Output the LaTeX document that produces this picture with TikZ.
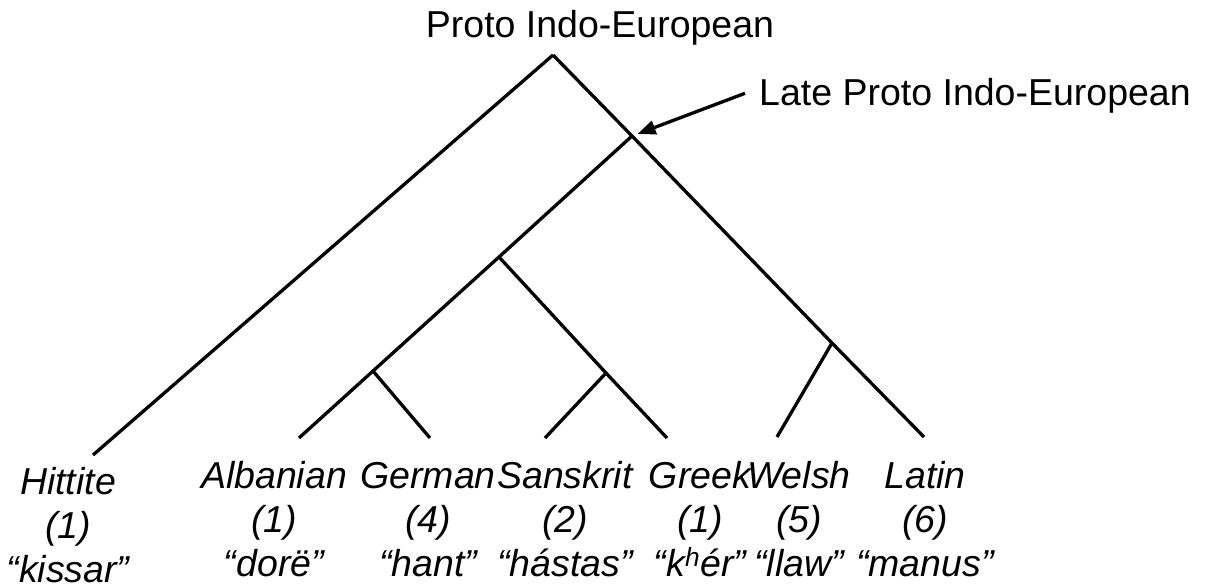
\documentclass[tikz,border=0pt]{standalone}
\usepackage{fontspec}
\setmainfont{Liberation Sans}
\usetikzlibrary{arrows.meta}

\begin{document}
\begin{tikzpicture}[x=1pt, y=-1pt,
    branch/.style={line width=3.3pt},
    pointer/.style={line width=3.3pt, -{Triangle[length=18pt,width=14pt]}, shorten >=6pt},
    title/.style={anchor=base, inner sep=0pt, font=\fontsize{37.5}{44}\selectfont},
    leaf/.style={anchor=base, inner sep=0pt, font=\fontsize{37.5}{44}\selectfont\itshape}]
    \path[use as bounding box] (0, 0) rectangle (1205, 586);

    \node[title] (pie) at (600, 38) {Proto Indo-European};
    \node[title, anchor=base west] (late) at (759, 105) {Late Proto Indo-European};

    % branch points
    \coordinate (root) at (553, 55);
    \coordinate (lpie) at (632, 136);
    \coordinate (core) at (499, 257);
    \coordinate (ag)   at (373, 371);
    \coordinate (sg)   at (606, 373);
    \coordinate (wl)   at (832, 343);

    % leaf ends
    \coordinate (hit) at (93, 455);
    \coordinate (alb) at (299, 438);
    \coordinate (ger) at (430, 438);
    \coordinate (san) at (545, 438);
    \coordinate (gre) at (667, 438);
    \coordinate (wel) at (777, 437);
    \coordinate (lat) at (924, 437);

    \draw[branch] (root) -- (hit);
    \draw[branch] (root) -- (lpie) -- (wl) -- (lat);
    \draw[branch] (lpie) -- (core) -- (ag) -- (alb);
    \draw[branch] (ag) -- (ger);
    \draw[branch] (core) -- (sg) -- (gre);
    \draw[branch] (sg) -- (san);
    \draw[branch] (wl) -- (wel);

    \draw[pointer] ([xshift=-14pt, yshift=2pt]late.west) -- (lpie);

    \foreach \x/\y/\lang/\num/\word [count=\i] in {
        68/494/Hittite/1/kissar,
        274/488/Albanian/1/dorë,
        428/488/German/4/hant,
        565/488/Sanskrit/2/hástas,
        700/488/Greek/1/{k\textsuperscript{h}ér},
        799/488/Welsh/5/llaw,
        925/488/Latin/6/manus} {
      \node[leaf] (lang\i) at (\x, \y) {\lang};
      \node[leaf] (num\i)  at (\x, \y+44) {(\num)};
      \node[leaf] (word\i) at (\x, \y+88) {“\word”};
    }
\end{tikzpicture}
\end{document}
